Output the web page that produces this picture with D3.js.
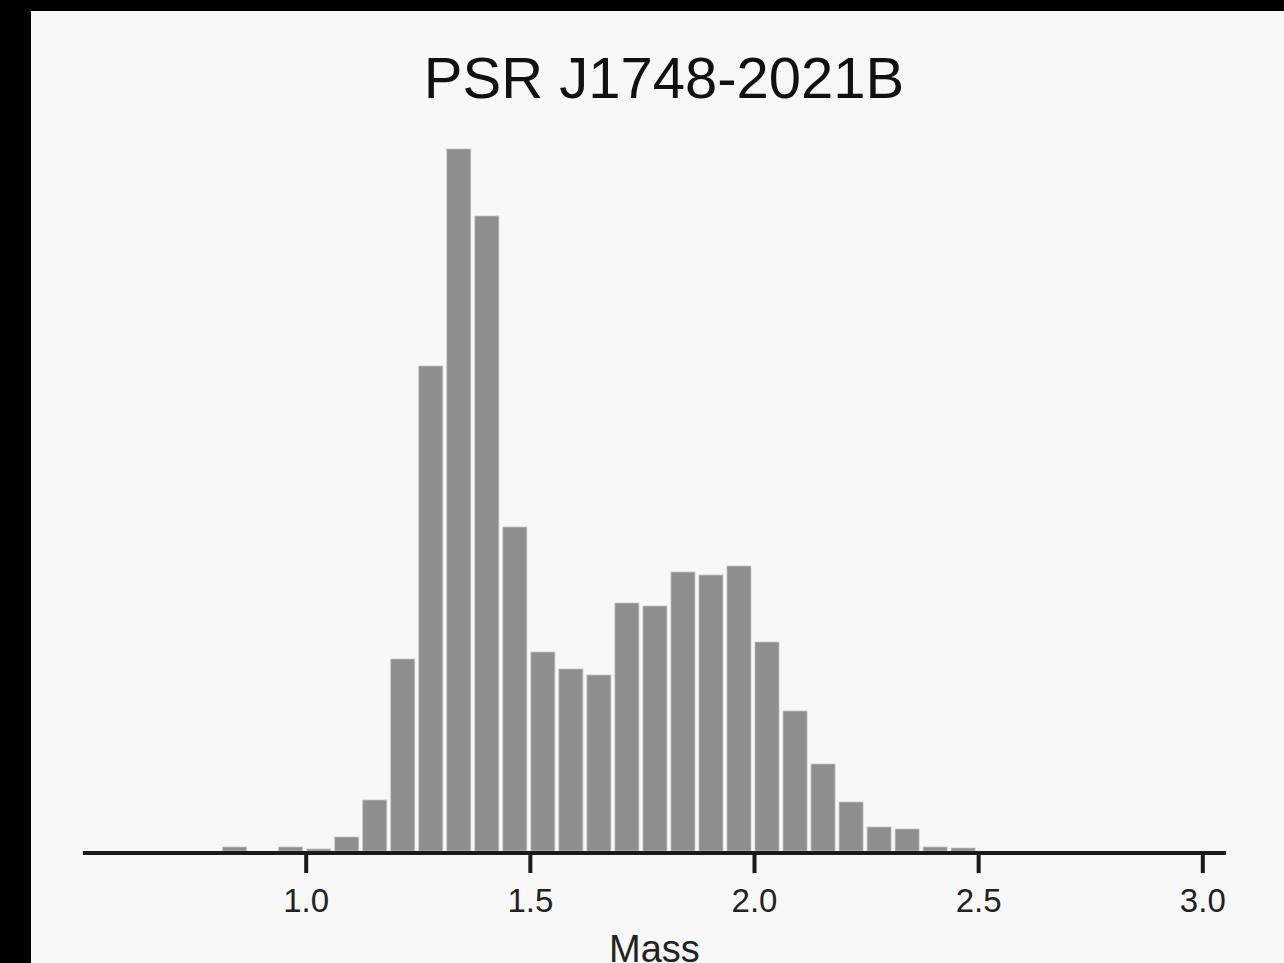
<!DOCTYPE html>
<html>
<head>
<meta charset="utf-8">
<script src="https://cdn.jsdelivr.net/npm/d3@7"></script>
<style>
  html, body { margin: 0; padding: 0; background: #000; }
  svg { display: block; }
</style>
</head>
<body>
<svg id="chart" width="1284" height="963"></svg>
<script>
// histogram bins (left edges) and heights
var binWidth = 0.0625
var binStarts = [0.8125, 0.875, 0.9375, 1.0, 1.0625, 1.125, 1.1875, 1.25, 1.3125, 1.375,
  1.4375, 1.5, 1.5625, 1.625, 1.6875, 1.75, 1.8125, 1.875, 1.9375, 2.0,
  2.0625, 2.125, 2.1875, 2.25, 2.3125, 2.375, 2.4375]
var counts = [4, 0, 4, 2, 14, 51, 192, 485, 702, 635,
  324, 199, 182, 176, 248, 245, 279, 276, 285, 209,
  140, 87, 49, 24, 22, 4, 3]
var xTicks = [1.0, 1.5, 2.0, 2.5, 3.0]
var title = 'PSR J1748-2021B'
var xLabel = 'Mass'

var svg = d3.select('#chart')

// light panel over black backdrop
svg.append('rect')
  .attr('x', 31).attr('y', 11)
  .attr('width', 1253).attr('height', 952)
  .attr('fill', '#f8f8f8')

var x = d3.scaleLinear()
  .domain([1.0, 3.0])
  .range([305.7, 1202.3])
var y = d3.scaleLinear()
  .domain([0, d3.max(counts)])
  .range([851, 149])

var bins = binStarts.map(function (s, i) {
  return {x0: s, x1: s + binWidth, n: counts[i]}
}).filter(function (d) { return d.n > 0 })

// bars
svg.append('g')
  .selectAll('rect')
  .data(bins)
  .join('rect')
  .attr('x', (d) => x(d.x0) + 1)
  .attr('width', (d) => x(d.x1) - x(d.x0) - 4)
  .attr('y', (d) => y(d.n))
  .attr('height', (d) => y(0) - y(d.n))
  .attr('fill', '#8e8e8e')
  .attr('stroke', '#c4c4c4')
  .attr('stroke-width', 0.8)

// x axis
var axis = svg.append('g')
  .attr('transform', 'translate(0,853)')
  .call(d3.axisBottom(x)
    .tickValues(xTicks)
    .tickFormat(d3.format('.1f'))
    .tickSize(20)
    .tickSizeOuter(0)
    .tickPadding(0))
axis.select('.domain').remove()
axis.append('line')
  .attr('x1', x(0.503)).attr('x2', x(3.053))
  .attr('stroke', '#1a1a1a')
  .attr('stroke-width', 4)
axis.selectAll('.tick line')
  .attr('stroke', '#1a1a1a')
  .attr('stroke-width', 4)
axis.selectAll('.tick text')
  .attr('fill', '#222')
  .attr('y', 59)
  .attr('dy', 0)
  .style('font-family', '"Liberation Sans", Arial, sans-serif')
  .style('font-size', '33px')

// axis label
svg.append('text')
  .attr('x', (x(0.503) + x(3.053)) / 2)
  .attr('y', 962)
  .attr('text-anchor', 'middle')
  .attr('fill', '#222')
  .style('font-family', '"Liberation Sans", Arial, sans-serif')
  .style('font-size', '38px')
  .text(xLabel)

// title
svg.append('text')
  .attr('x', 664)
  .attr('y', 98)
  .attr('text-anchor', 'middle')
  .attr('fill', '#111')
  .style('font-family', '"Liberation Sans", Arial, sans-serif')
  .style('font-size', '58px')
  .text(title)
</script>
</body>
</html>
